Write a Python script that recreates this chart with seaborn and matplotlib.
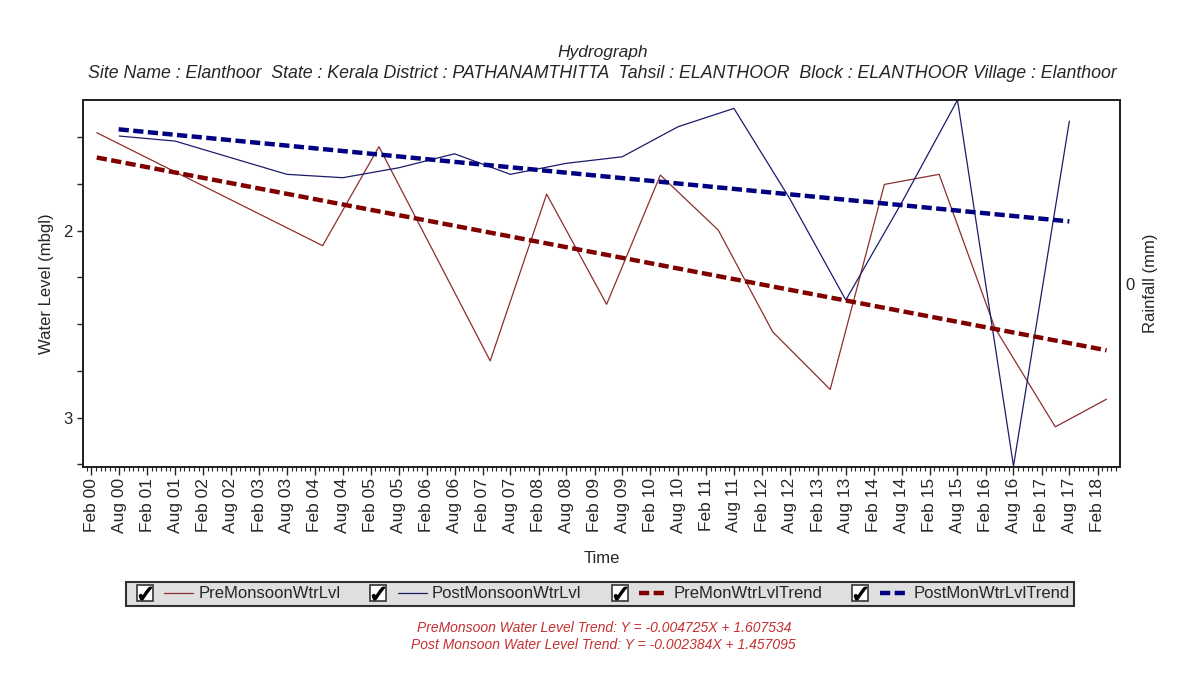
import pandas as pd
import matplotlib.pyplot as plt
import matplotlib.dates as mdates
import seaborn as sns
from matplotlib.lines import Line2D
from matplotlib.legend_handler import HandlerTuple
from matplotlib.ticker import FixedLocator, MultipleLocator

pre_dates = ['2000-03-07', '2004-03-22', '2005-03-25', '2007-03-22', '2008-03-25',
             '2009-04-21', '2010-04-07', '2011-04-21', '2012-04-10', '2013-04-21',
             '2014-04-10', '2015-04-03', '2016-04-01', '2017-05-01', '2018-04-01']
pre_levels = [1.475, 2.08, 1.55, 2.697, 1.804, 2.394, 1.702, 1.997, 2.541, 2.85,
              1.752, 1.698, 2.52, 3.05, 2.902]

post_dates = ['2000-08-01', '2001-08-01', '2003-08-01', '2004-08-01', '2005-08-01',
              '2006-08-01', '2007-08-01', '2008-08-01', '2009-08-01', '2010-08-01',
              '2011-08-01', '2012-08-01', '2013-08-01', '2014-08-01', '2015-08-01',
              '2016-08-01', '2017-08-01']
post_levels = [1.493, 1.52, 1.698, 1.716, 1.663, 1.588, 1.698, 1.639, 1.604, 1.443,
               1.345, 1.83, 2.371, 1.85, 1.30, 3.26, 1.413]

# trend lines (end points)
pre_trend_dates = ['2000-03-07', '2018-04-01']
pre_trend_levels = [1.608, 2.64]
post_trend_dates = ['2000-07-28', '2017-08-01']
post_trend_levels = [1.457, 1.95]

legend_labels = ['PreMonsoonWtrLvl', 'PostMonsoonWtrLvl', 'PreMonWtrLvlTrend', 'PostMonWtrLvlTrend']
title = 'Hydrograph'
subtitle = ('Site Name : Elanthoor  State : Kerala District : PATHANAMTHITTA  Tahsil : ELANTHOOR  '
            'Block : ELANTHOOR Village : Elanthoor')
trend_texts = ['PreMonsoon Water Level Trend: Y = -0.004725X + 1.607534',
               'Post Monsoon Water Level Trend: Y = -0.002384X + 1.457095']

pre = pd.DataFrame({'date': pd.to_datetime(pre_dates), 'level': pre_levels})
post = pd.DataFrame({'date': pd.to_datetime(post_dates), 'level': post_levels})
pre_tr = pd.DataFrame({'date': pd.to_datetime(pre_trend_dates), 'level': pre_trend_levels})
post_tr = pd.DataFrame({'date': pd.to_datetime(post_trend_dates), 'level': post_trend_levels})

sns.set_theme(style='ticks')
plt.rcParams['font.family'] = ['Liberation Sans', 'DejaVu Sans']

fig = plt.figure(figsize=(11.9, 6.79), dpi=100)
ax = fig.add_axes([83 / 1190, 1 - 467 / 679, 1037 / 1190, 367 / 679])

red_line = '#8b2f2f'
blue_line = '#1c1c6b'
sns.lineplot(data=pre, x='date', y='level', ax=ax, color=red_line, lw=0.9)
sns.lineplot(data=post, x='date', y='level', ax=ax, color=blue_line, lw=0.9)
sns.lineplot(data=pre_tr, x='date', y='level', ax=ax, color='#800000', lw=3.2,
             linestyle=(0, (2.3, 1.0)))
sns.lineplot(data=post_tr, x='date', y='level', ax=ax, color='#000080', lw=3.2,
             linestyle=(0, (2.3, 1.0)))

ax.set_xlim(pd.Timestamp('1999-12-08'), pd.Timestamp('2018-06-28'))
ax.set_ylim(3.265, 1.30)

ax.xaxis.set_major_locator(mdates.MonthLocator(bymonth=[2, 8]))
ax.xaxis.set_major_formatter(mdates.DateFormatter('%b %y'))
ax.xaxis.set_minor_locator(mdates.MonthLocator())
ax.tick_params(axis='x', which='major', length=6, width=1, rotation=90, labelsize=12.5, pad=2)
ax.tick_params(axis='x', which='minor', length=3, width=0.8)

ax.yaxis.set_major_locator(FixedLocator([2, 3]))
ax.yaxis.set_minor_locator(MultipleLocator(0.25))
ax.tick_params(axis='y', which='both', length=4, width=1, labelsize=12)

for sp in ax.spines.values():
    sp.set_color('black')
    sp.set_linewidth(1.3)

ax.set_xlabel('Time', fontsize=12)
ax.xaxis.set_label_coords(0.5, -0.23)
ax.set_ylabel('Water Level (mbgl)', fontsize=12)
ax.yaxis.set_label_coords(-0.028, 0.5)

# empty rainfall axis on the right
ax2 = ax.twinx()
ax2.set_ylim(-1, 1)
ax2.set_yticks([0])
ax2.tick_params(axis='y', length=0, pad=4, labelsize=12)
ax2.set_ylabel('Rainfall (mm)', fontsize=12, labelpad=6)
ax2.grid(False)

fig.text(603 / 1190, 1 - 52 / 679, title, ha='center', va='center', style='italic', fontsize=12.5)
fig.text(602 / 1190, 1 - 74 / 679, subtitle, ha='center', va='center', style='italic', fontsize=12.8)

# legend with check boxes
box = Line2D([], [], ls='none', marker='s', markersize=12, markerfacecolor='white',
             markeredgecolor='#333333', markeredgewidth=1.2)
tick = Line2D([], [], ls='none', marker='$\u2713$', markersize=9, color='black')
check = (box, tick)
lines = ax.get_lines()[:4]
handles = [(check, ln) for ln in lines]
leg = fig.legend(handles, legend_labels,
                 handler_map={check: HandlerTuple(ndivide=1, pad=0),
                              tuple: HandlerTuple(ndivide=None, pad=0.3)},
                 ncol=4, loc='center', bbox_to_anchor=(600 / 1190, 1 - 594 / 679),
                 frameon=True, fancybox=False, fontsize=12, handlelength=3.8,
                 handletextpad=0.3, columnspacing=1.4, borderpad=0.25, borderaxespad=0)
leg.get_frame().set_facecolor('#d8d8d8')
leg.get_frame().set_edgecolor('black')
leg.get_frame().set_linewidth(1.5)

fig.text(604 / 1190, 1 - 628 / 679, trend_texts[0], ha='center', va='center', style='italic',
         fontsize=10, color='#c43030', family=['Liberation Sans Narrow', 'Liberation Sans'])
fig.text(603 / 1190, 1 - 645 / 679, trend_texts[1], ha='center', va='center', style='italic',
         fontsize=10, color='#c43030', family=['Liberation Sans Narrow', 'Liberation Sans'])

fig.savefig('out.png', dpi=100)
